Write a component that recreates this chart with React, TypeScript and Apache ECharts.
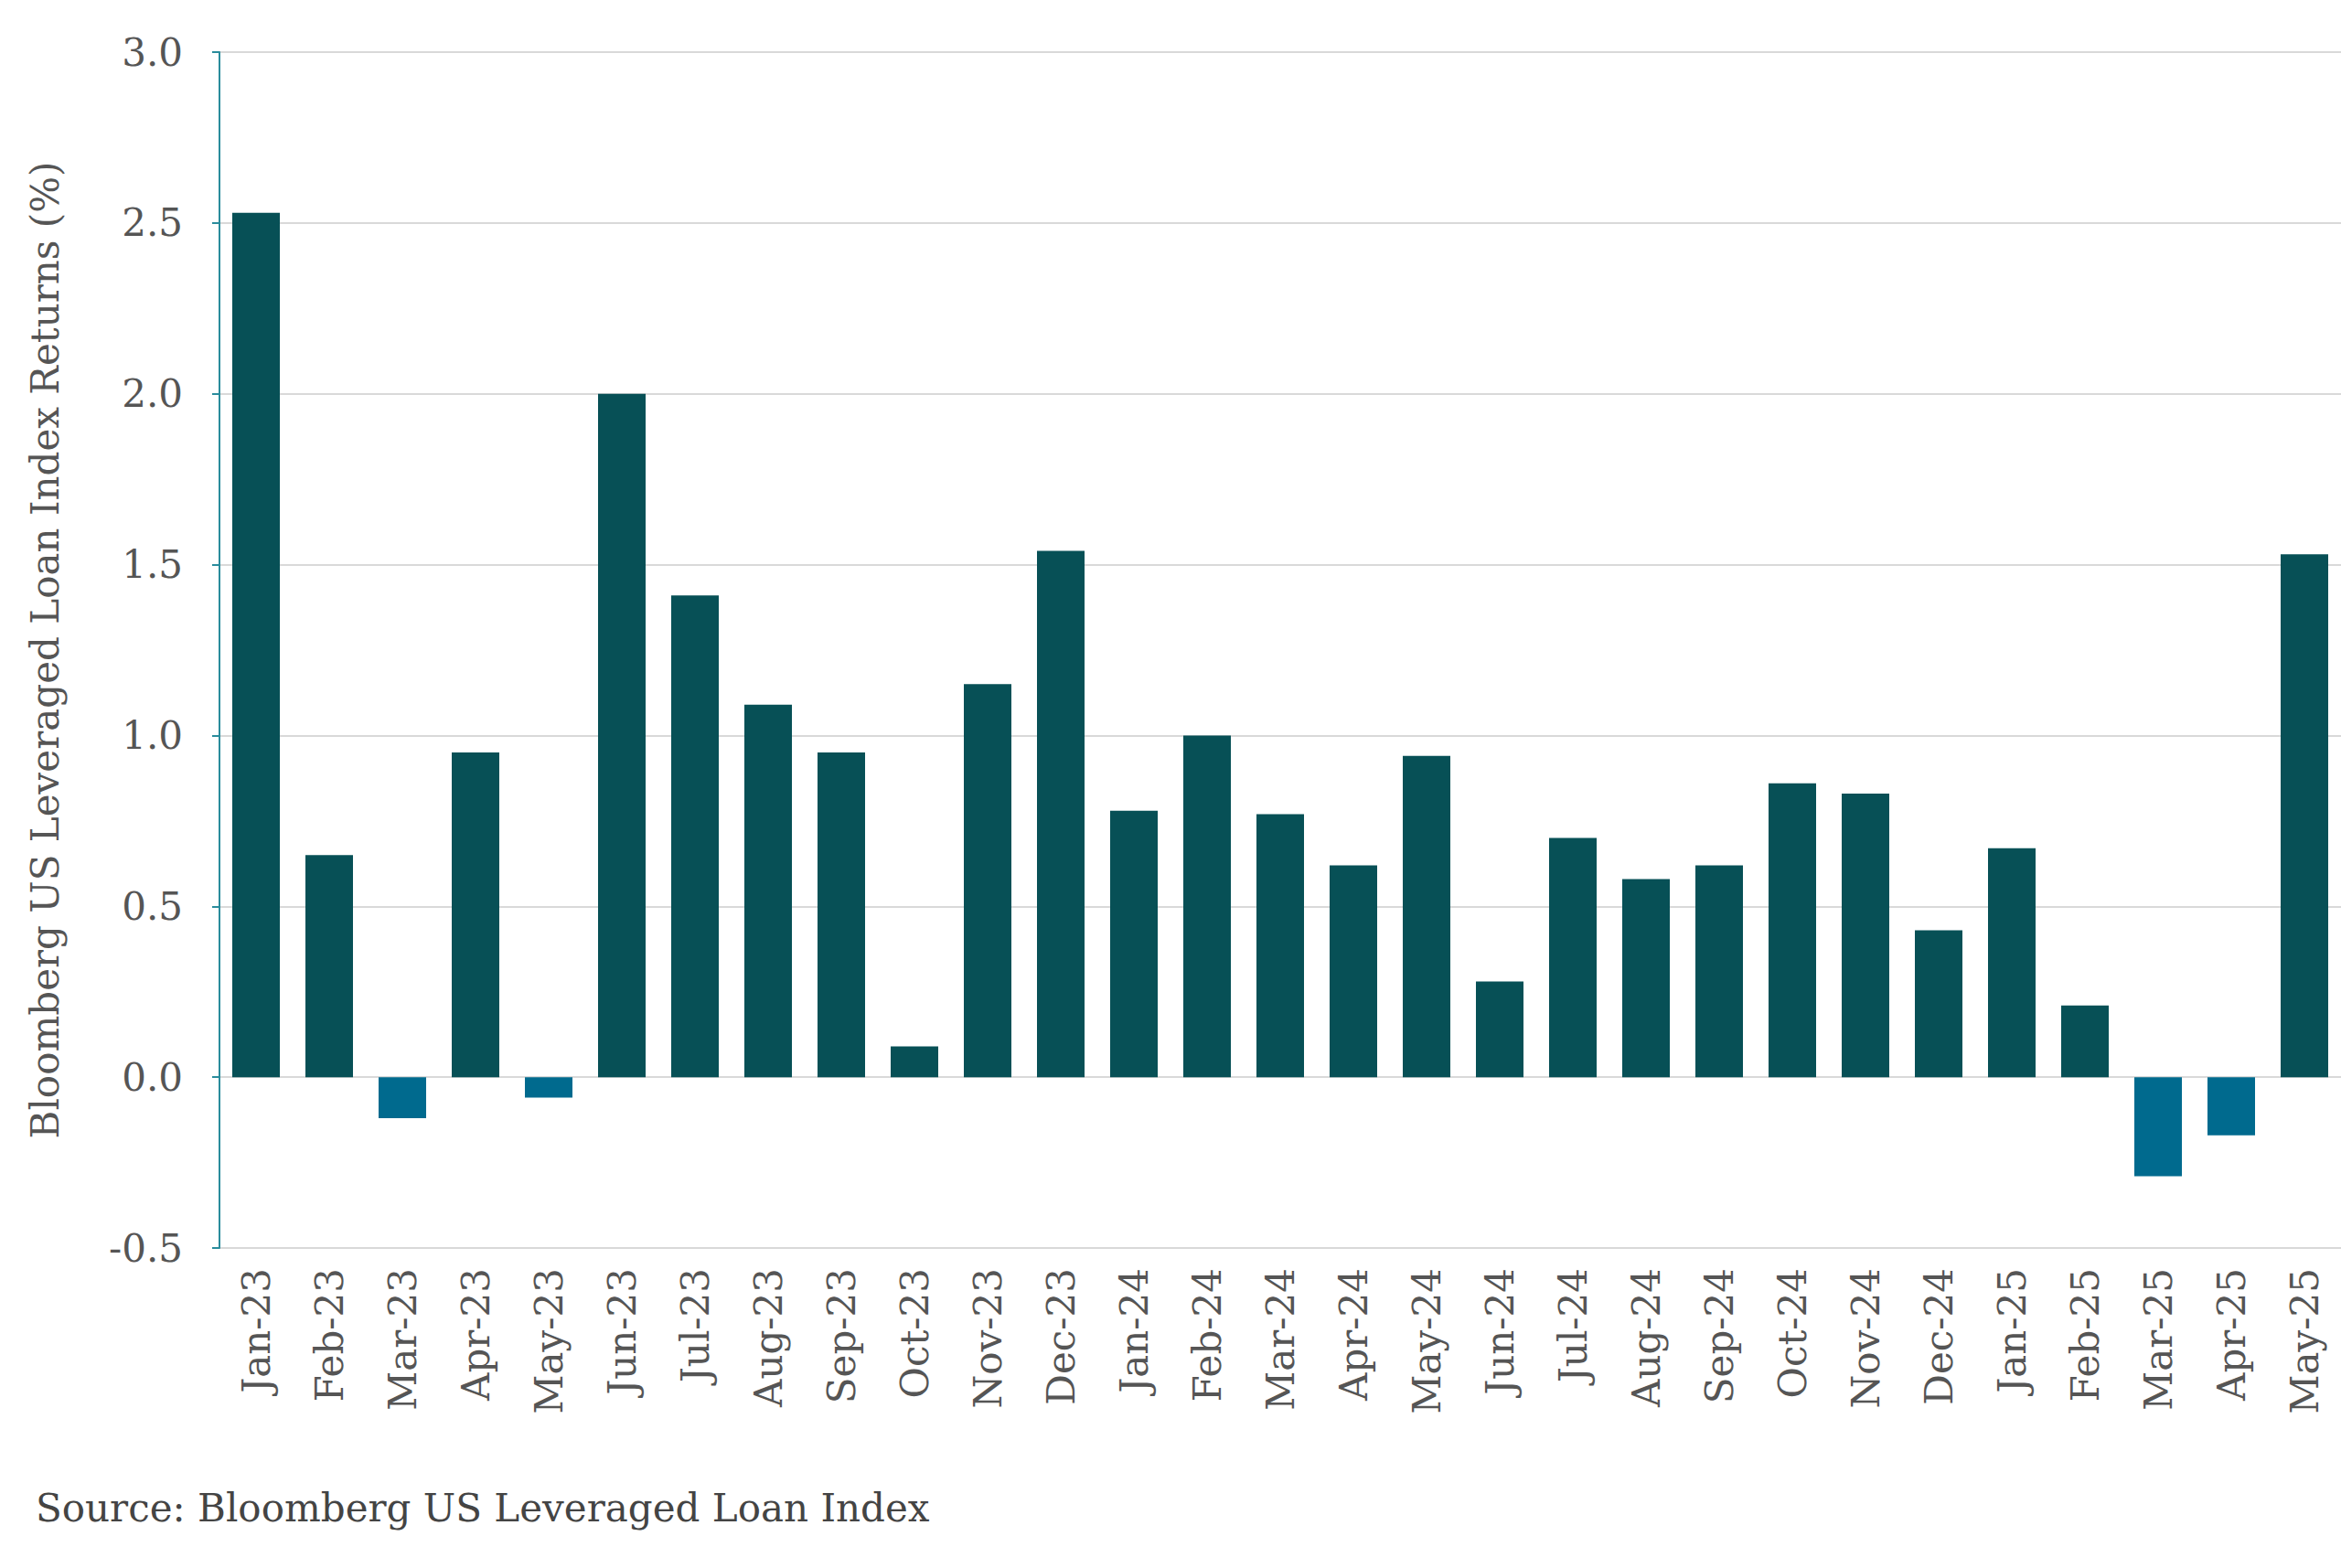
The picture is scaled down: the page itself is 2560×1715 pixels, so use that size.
import React, { useEffect, useRef } from "react";
import * as echarts from "echarts";

const categories = ["Jan-23","Feb-23","Mar-23","Apr-23","May-23","Jun-23","Jul-23","Aug-23","Sep-23","Oct-23","Nov-23","Dec-23","Jan-24","Feb-24","Mar-24","Apr-24","May-24","Jun-24","Jul-24","Aug-24","Sep-24","Oct-24","Nov-24","Dec-24","Jan-25","Feb-25","Mar-25","Apr-25","May-25"];
const returns = [2.53,0.65,-0.12,0.95,-0.06,2.0,1.41,1.09,0.95,0.09,1.15,1.54,0.78,1.0,0.77,0.62,0.94,0.28,0.7,0.58,0.62,0.86,0.83,0.43,0.67,0.21,-0.29,-0.17,1.53];

const FONT = "DejaVu Serif";

export default function App() {
  const ref = useRef<HTMLDivElement>(null);
  useEffect(() => {
    document.body.style.margin = "0";
    const chart = echarts.init(ref.current!, undefined, { renderer: "svg" });
    chart.setOption({
      animation: false,
      backgroundColor: "#ffffff",
      textStyle: { fontFamily: FONT },
      grid: { left: 240, top: 57, right: 0, bottom: 350 },
      graphic: [{ type: "text", left: 39, top: 1628, style: { text: "Source: Bloomberg US Leveraged Loan Index", fontFamily: FONT, fontSize: 42, fill: "#444" } }],
      xAxis: {
        type: "category", data: categories,
        axisLine: { show: false }, axisTick: { show: false },
        axisLabel: { rotate: 90, fontSize: 42, color: "#555", fontFamily: FONT, margin: 22, interval: 0 },
      },
      yAxis: {
        type: "value", min: -0.5, max: 3.0, interval: 0.5,
        name: "Bloomberg US Leveraged Loan Index Returns (%)", nameLocation: "middle", nameGap: 170,
        nameTextStyle: { fontSize: 42, color: "#555", fontFamily: FONT },
        axisLine: { show: true, lineStyle: { color: "#2a8c9c", width: 2 } },
        axisTick: { show: true, length: 8, lineStyle: { color: "#2a8c9c", width: 2 } },
        axisLabel: { fontSize: 42, color: "#555", fontFamily: FONT, margin: 40, formatter: (v: number) => v.toFixed(1) },
        splitLine: { lineStyle: { color: "#d9d9d9", width: 2 } },
      },
      series: [{
        type: "bar", barCategoryGap: "35%",
        data: returns.map(v => ({ value: v, itemStyle: { color: v < 0 ? "#006a8e" : "#075056" } })),
      }],
    });
    return () => chart.dispose();
  }, []);
  return <div ref={ref} style={{ width: 2560, height: 1715 }} />;
}
